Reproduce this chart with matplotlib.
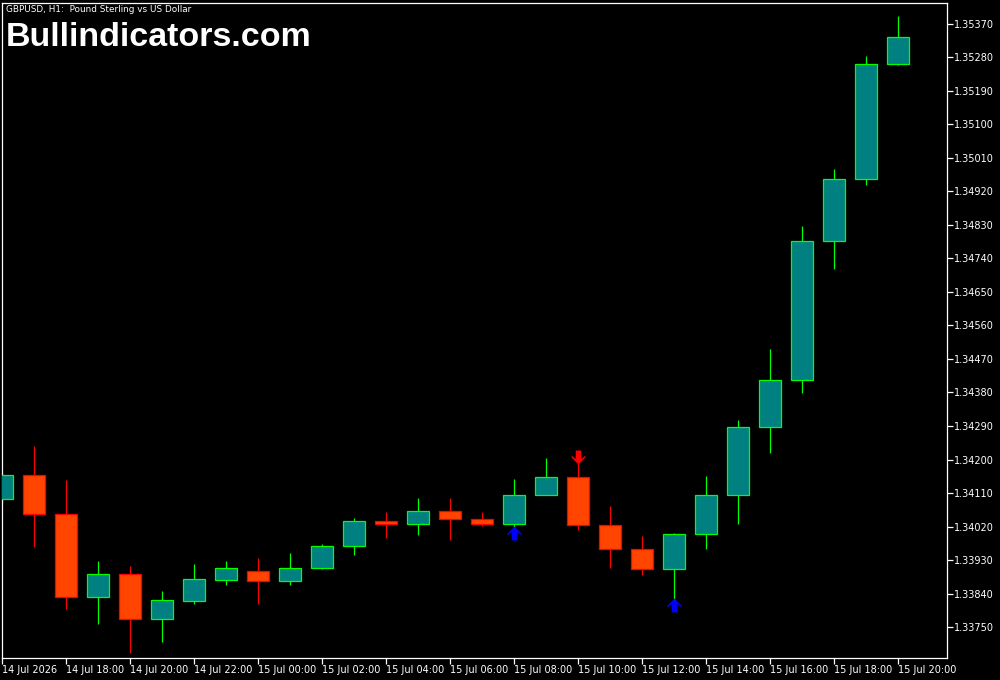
import numpy as np
import matplotlib
matplotlib.use("Agg")
import matplotlib.pyplot as plt
from matplotlib.path import Path

# GBPUSD H1 candles, 14 Jul 16:00 .. 15 Jul 20:00
opens = [1.34093, 1.34158, 1.34053, 1.33830, 1.33892, 1.33772, 1.33821, 1.33877,
         1.33900, 1.33874, 1.33910, 1.33969, 1.34034, 1.34026, 1.34061, 1.34039,
         1.34026, 1.34104, 1.34152, 1.34023, 1.33961, 1.33905, 1.33999, 1.34104,
         1.34287, 1.34413, 1.34786, 1.34953, 1.35262]
highs = [1.34165, 1.34236, 1.34145, 1.33927, 1.33914, 1.33847, 1.33919, 1.33927,
         1.33935, 1.33949, 1.33973, 1.34042, 1.34059, 1.34096, 1.34096, 1.34059,
         1.34147, 1.34204, 1.34190, 1.34075, 1.33994, 1.34002, 1.34156, 1.34306,
         1.34497, 1.34827, 1.34980, 1.35284, 1.35391]
lows = [1.34085, 1.33966, 1.33798, 1.33759, 1.33680, 1.33711, 1.33813, 1.33863,
        1.33813, 1.33863, 1.33906, 1.33944, 1.33990, 1.33998, 1.33985, 1.34022,
        1.34020, 1.34104, 1.34012, 1.33910, 1.33889, 1.33825, 1.33960, 1.34028,
        1.34218, 1.34379, 1.34713, 1.34938, 1.35259]
closes = [1.34158, 1.34053, 1.33830, 1.33892, 1.33772, 1.33822, 1.33878, 1.33908,
          1.33874, 1.33910, 1.33969, 1.34034, 1.34026, 1.34061, 1.34039, 1.34026,
          1.34106, 1.34152, 1.34023, 1.33961, 1.33905, 1.33999, 1.34104, 1.34287,
          1.34413, 1.34786, 1.34953, 1.35262, 1.35334]

# indicator arrows
buy_idx = [16, 21]
buy_price = [1.34003, 1.33808]
sell_idx = [18]
sell_price = [1.34208]

price_ticks = [1.33750, 1.33840, 1.33930, 1.34020, 1.34110, 1.34200, 1.34290,
               1.34380, 1.34470, 1.34560, 1.34650, 1.34740, 1.34830, 1.34920,
               1.35010, 1.35100, 1.35190, 1.35280, 1.35370]
time_tick_idx = [0, 2, 4, 6, 8, 10, 12, 14, 16, 18, 20, 22, 24, 26, 28]
time_labels = ["14 Jul 2026", "14 Jul 18:00", "14 Jul 20:00", "14 Jul 22:00",
               "15 Jul 00:00", "15 Jul 02:00", "15 Jul 04:00", "15 Jul 06:00",
               "15 Jul 08:00", "15 Jul 10:00", "15 Jul 12:00", "15 Jul 14:00",
               "15 Jul 16:00", "15 Jul 18:00", "15 Jul 20:00"]

BULL_FILL, BULL_EDGE = "#008080", "#00ff00"
BEAR_FILL, BEAR_EDGE = "#ff4500", "#ff0000"

fig = plt.figure(figsize=(10, 6.8), dpi=100, facecolor="black")
ax = fig.add_axes([0.002, 1 - 658 / 680, 0.945, 655 / 680])
ax.set_facecolor("black")

x = np.arange(len(opens))
o = np.array(opens)
c = np.array(closes)
up = c >= o
wick_col = [BULL_EDGE if u else BEAR_EDGE for u in up]
ax.vlines(x, lows, highs, colors=wick_col, linewidth=0.9, zorder=2)
ax.bar(x, np.abs(c - o), bottom=np.minimum(o, c), width=0.69,
       color=[BULL_FILL if u else BEAR_FILL for u in up],
       edgecolor=wick_col, linewidth=0.9, zorder=3)

up_arrow = Path([(0, 0.5), (0.5, 0.0), (0.5, -0.14), (0.2, 0.12), (0.2, -0.5),
                 (-0.2, -0.5), (-0.2, 0.12), (-0.5, -0.14), (-0.5, 0.0), (0, 0.5)],
                [Path.MOVETO] + [Path.LINETO] * 8 + [Path.CLOSEPOLY])
down_arrow = Path(up_arrow.vertices * [1, -1], up_arrow.codes)
ax.plot(buy_idx, buy_price, linestyle="none", marker=up_arrow, markersize=10,
        color="#0000ff", markeredgewidth=0, zorder=4)
ax.plot(sell_idx, sell_price, linestyle="none", marker=down_arrow, markersize=10,
        color="#ff0000", markeredgewidth=0, zorder=4)

ax.set_xlim(0, 29.53)
ax.set_ylim(1.33667, 1.35426)

ax.yaxis.tick_right()
ax.set_yticks(price_ticks)
ax.set_yticklabels([f"{p:.5f}" for p in price_ticks])
ax.set_xticks(time_tick_idx)
ax.set_xticklabels(time_labels)
for lbl in ax.get_xticklabels():
    lbl.set_horizontalalignment("left")
ax.tick_params(axis="both", colors="white", labelcolor="white", labelsize=7,
               length=4, width=0.9, direction="out", pad=1)
for s in ax.spines.values():
    s.set_color("white")
    s.set_linewidth(0.9)

fig.text(0.006, 1 - 10 / 680, "GBPUSD, H1:  Pound Sterling vs US Dollar", color="white",
         fontsize=6.4, va="center", ha="left")
fig.text(0.006, 1 - 38 / 680, "Bullindicators.com", color="white", fontsize=24.5,
         fontweight="bold", family="Liberation Sans", va="center", ha="left")

fig.savefig("out.png", dpi=100, facecolor="black")
